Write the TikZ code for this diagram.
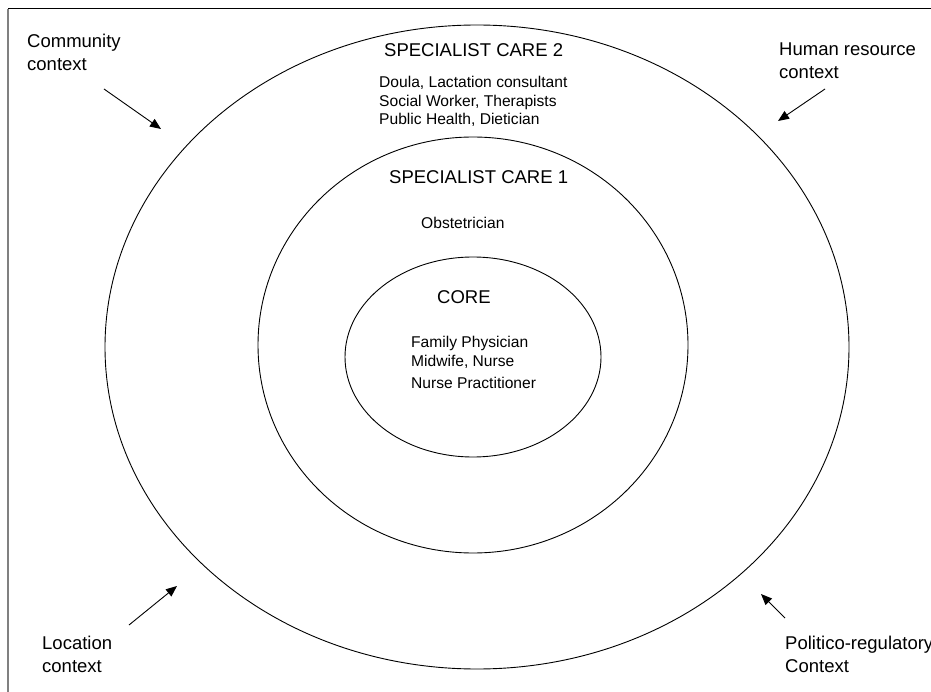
\documentclass[tikz,border=0pt]{standalone}
\usepackage{fontspec}
\setmainfont{Liberation Sans}
\usetikzlibrary{arrows.meta}
\begin{document}
\begin{tikzpicture}[x=1pt,y=-1pt,
  ring/.style={draw=black,line width=0.9pt},
  big/.style={font=\fontsize{18.5}{22}\selectfont,anchor=base west,inner sep=0pt},
  small/.style={font=\fontsize{15.6}{18.5}\selectfont,anchor=base west,inner sep=0pt},
  pointer/.style={draw=black,line width=0.9pt,-{Triangle[length=11pt,width=9pt]}}]
\useasboundingbox (0,0) rectangle (931,692);
% frame
\draw[black,line width=1pt] (8,9) -- (931,9);
\draw[gray,line width=1.6pt] (8,9) -- (8,692);
% ellipses
\draw[ring] (477,347) ellipse [x radius=372,y radius=322];
\draw[ring] (473,345) ellipse [x radius=215,y radius=208];
\draw[ring] (473,357) ellipse [x radius=128,y radius=100];
% specialist care 2
\node[big] (sc2) at (384,57) {SPECIALIST CARE 2};
\node[small] (sc2a) at (379,88) {Doula, Lactation consultant};
\node[small] (sc2b) at (379,107) {Social Worker, Therapists};
\node[small] (sc2c) at (379,125) {Public Health, Dietician};
% specialist care 1
\node[big] (sc1) at (389,184) {SPECIALIST CARE 1};
\node[small] (sc1a) at (421,229) {Obstetrician};
% core
\node[big] (core) at (437,304) {CORE};
\node[small] (corea) at (411,348) {Family Physician};
\node[small] (coreb) at (411,366) {Midwife, Nurse};
\node[small] (corec) at (411,388) {Nurse Practitioner};
% context labels
\node[big] (comm1) at (27,48) {Community};
\node[big] (comm2) at (27,71) {context};
\node[big] (hr1) at (779,56) {Human resource};
\node[big] (hr2) at (779,79) {context};
\node[big] (loc1) at (42,649) {Location};
\node[big] (loc2) at (42,672) {context};
\node[big] (pol1) at (785,649) {Politico-regulatory};
\node[big] (pol2) at (785,672) {Context};
% arrows
\coordinate (commS) at (104,89);
\coordinate (commE) at (161,129);
\coordinate (hrS) at (825,89);
\coordinate (hrE) at (778,121);
\coordinate (locS) at (129,625);
\coordinate (locE) at (177,586);
\coordinate (polS) at (785,618);
\coordinate (polE) at (761,594);
\draw[pointer] (commS) -- (commE);
\draw[pointer] (hrS) -- (hrE);
\draw[pointer] (locS) -- (locE);
\draw[pointer] (polS) -- (polE);
\end{tikzpicture}
\end{document}
